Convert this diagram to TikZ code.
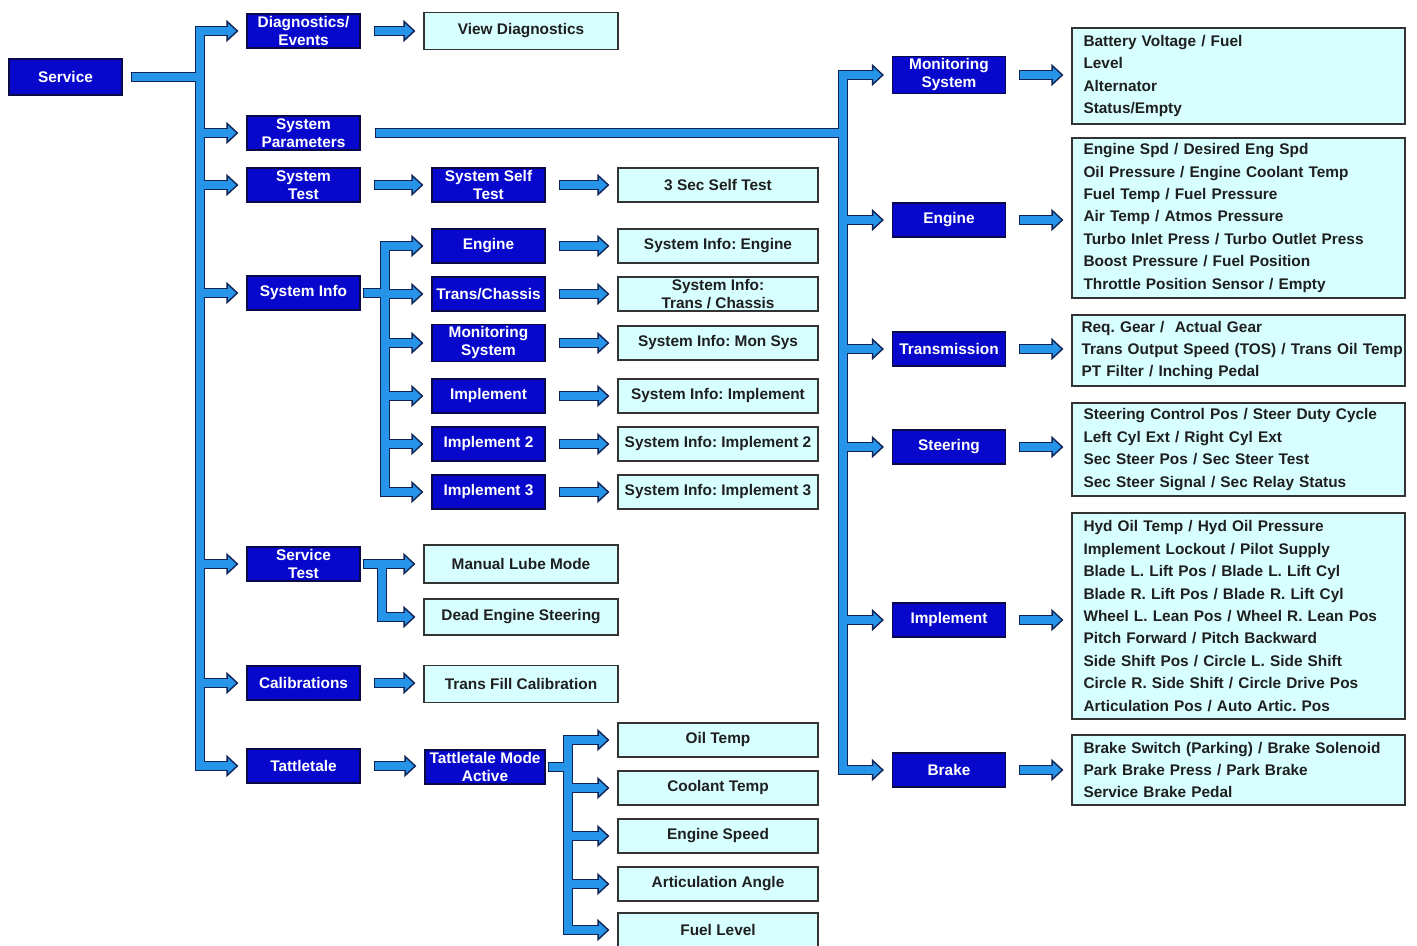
\documentclass[tikz,border=0pt]{standalone}
\usepackage{fontspec}
\setmainfont{Liberation Sans}
\usetikzlibrary{arrows.meta}
\frenchspacing

\definecolor{menublue}{RGB}{8,8,205}
\definecolor{menuedge}{RGB}{10,10,70}
\definecolor{infocyan}{RGB}{215,255,255}
\definecolor{pipeblue}{RGB}{38,148,232}
\definecolor{pipeedge}{RGB}{15,35,85}

\pgfdeclarelayer{edgelayer}
\pgfdeclarelayer{filllayer}
\pgfsetlayers{edgelayer,filllayer,main}

\tikzset{
  menubox/.style={draw=menuedge, fill=menublue, text=white, line width=0.6pt,
    font=\fontsize{7.7}{9}\selectfont\bfseries, align=center, inner sep=1pt,
    minimum width=56.5pt, minimum height=17pt},
  infobox/.style={draw=black!80, fill=infocyan, text=black!88, line width=0.6pt,
    font=\fontsize{7.7}{9}\selectfont\bfseries, align=center, inner sep=1pt,
    minimum width=100pt, minimum height=17pt},
  detailbox/.style={infobox, font=\fontsize{7.7}{11.2}\selectfont\bfseries,
    align=left, text width=155pt, inner xsep=5.75pt},
  pipeout/.style={line width=5pt, draw=pipeedge, shorten >=4pt,
    -{Triangle[length=6pt,width=11pt,line width=0.7pt,fill=pipeblue]}},
  pipein/.style={line width=3.6pt, draw=pipeblue, shorten >=9pt}
}

% fat arrow: dark edge below, blue core above
\newcommand\pipe[2][1pt]{%
  \begin{pgfonlayer}{edgelayer}\draw[pipeout, shorten <=#1] #2;\end{pgfonlayer}%
  \begin{pgfonlayer}{filllayer}\draw[pipein, shorten <=#1+0.6pt] #2;\end{pgfonlayer}}

\begin{document}
\begin{tikzpicture}[x=0.5pt, y=-0.5pt]
  \useasboundingbox (0,0) rectangle (1417,946);

  % first level
  \node[menubox, minimum height=18pt] (service) at (65.5,77) {Service};
  \node[menubox] (diag) at (303.5,31) {Diagnostics/\\Events};
  \node[menubox] (param) at (303.5,133) {System\\Parameters};
  \node[menubox] (systest) at (303.5,185) {System\\Test};
  \node[menubox] (sysinfo) at (303.5,293) {System Info};
  \node[menubox] (servtest) at (303.5,564) {Service\\Test};
  \node[menubox] (calib) at (303.5,683) {Calibrations};
  \node[menubox] (tattle) at (303.5,766) {Tattletale};

  % second level
  \node[menubox] (selftest) at (488.5,185) {System Self\\Test};
  \node[menubox] (ieng) at (488.5,246) {Engine};
  \node[menubox] (itrans) at (488.5,294) {Trans/Chassis};
  \node[menubox] (imon) at (488.5,343) {Monitoring\\System};
  \node[menubox] (iimp) at (488.5,396) {Implement};
  \node[menubox] (iimp2) at (488.5,444) {Implement 2};
  \node[menubox] (iimp3) at (488.5,492) {Implement 3};
  \node[menubox, minimum width=60pt] (tmode) at (485,767) {Tattletale Mode\\Active};

  \node[infobox, minimum width=97pt, minimum height=18.5pt] (vdiag) at (521,31) {View Diagnostics};
  \node[infobox, minimum width=97pt, minimum height=19pt] (lube) at (521,564) {Manual Lube Mode};
  \node[infobox, minimum width=97pt, minimum height=18pt] (dead) at (521,617) {Dead Engine Steering};
  \node[infobox, minimum width=97pt, minimum height=18.5pt] (transfill) at (521,684) {Trans Fill Calibration};

  % third level
  \node[infobox] (stest3) at (718,185) {3 Sec Self Test};
  \node[infobox] (seng) at (718,246) {System Info: Engine};
  \node[infobox] (strans) at (718,294) {System Info:\\Trans / Chassis};
  \node[infobox] (smon) at (718,343) {System Info: Mon Sys};
  \node[infobox] (simp) at (718,396) {System Info: Implement};
  \node[infobox] (simp2) at (718,444) {System Info: Implement 2};
  \node[infobox] (simp3) at (718,492) {System Info: Implement 3};
  \node[infobox] (oil) at (718,740) {Oil Temp};
  \node[infobox] (coolant) at (718,788) {Coolant Temp};
  \node[infobox] (espeed) at (718,836) {Engine Speed};
  \node[infobox] (artic) at (718,884) {Articulation Angle};
  \node[infobox] (fuel) at (718,930) {Fuel Level};

  % system parameters
  \node[menubox] (rmon) at (949,75) {Monitoring\\System};
  \node[menubox] (reng) at (949,220) {Engine};
  \node[menubox] (rtrans) at (949,349) {Transmission};
  \node[menubox] (rsteer) at (949,447) {Steering};
  \node[menubox] (rimp) at (949,620) {Implement};
  \node[menubox] (rbrake) at (949,770) {Brake};

  \node[detailbox, minimum height=48pt] (dmon) at (1238.5,76)
    {Battery Voltage / Fuel\\Level\\Alternator\\Status/Empty};
  \node[detailbox, minimum height=80pt] (deng) at (1238.5,218)
    {Engine Spd / Desired Eng Spd\\Oil Pressure / Engine Coolant Temp\\Fuel Temp / Fuel Pressure\\Air Temp / Atmos Pressure\\Turbo Inlet Press / Turbo Outlet Press\\Boost Pressure / Fuel Position\\Throttle Position Sensor / Empty};
  \node[detailbox, minimum height=35.5pt, text width=157pt, inner xsep=4.75pt] (dtrans) at (1238.5,350.5)
    {Req. Gear /~ Actual Gear\\\mbox{Trans Output Speed (TOS) / Trans Oil Temp}\\PT Filter / Inching Pedal};
  \node[detailbox, minimum height=46.5pt] (dsteer) at (1238.5,449.5)
    {Steering Control Pos / Steer Duty Cycle\\Left Cyl Ext / Right Cyl Ext\\Sec Steer Pos / Sec Steer Test\\Sec Steer Signal / Sec Relay Status};
  \node[detailbox, minimum height=103pt] (dimp) at (1238.5,616)
    {Hyd Oil Temp / Hyd Oil Pressure\\Implement Lockout / Pilot Supply\\Blade L. Lift Pos / Blade L. Lift Cyl\\Blade R. Lift Pos / Blade R. Lift Cyl\\Wheel L. Lean Pos / Wheel R. Lean Pos\\Pitch Forward / Pitch Backward\\Side Shift Pos / Circle L. Side Shift\\Circle R. Side Shift / Circle Drive Pos\\Articulation Pos / Auto Artic. Pos};
  \node[detailbox, minimum height=35pt] (dbrake) at (1238.5,770)
    {Brake Switch (Parking) / Brake Solenoid\\Park Brake Press / Park Brake\\Service Brake Pedal};

  % trunks
  \coordinate (lt) at (200,77);
  \coordinate (it) at (385,293);
  \coordinate (st) at (382,564);
  \coordinate (tt) at (568,767);
  \coordinate (rt) at (843,133);

  \foreach \n in {diag,param,systest,sysinfo,servtest,calib,tattle}
    {\pipe[4pt]{(service.east) -- (lt) |- (\n.west)}}
  \foreach \n in {ieng,itrans,imon,iimp,iimp2,iimp3}
    {\pipe{(sysinfo.east) -- (it) |- (\n.west)}}
  \foreach \n in {lube,dead}
    {\pipe{(servtest.east) -- (st) |- (\n.west)}}
  \foreach \n in {oil,coolant,espeed,artic,fuel}
    {\pipe{(tmode.east) -- (tt) |- (\n.west)}}
  \foreach \n in {rmon,reng,rtrans,rsteer,rimp,rbrake}
    {\pipe[7pt]{(param.east) -- (rt) |- (\n.west)}}

  % straight arrows
  \foreach \a/\b in {diag/vdiag, systest/selftest, selftest/stest3, calib/transfill,
      tattle/tmode, ieng/seng, itrans/strans, imon/smon, iimp/simp, iimp2/simp2,
      iimp3/simp3, rmon/dmon, reng/deng, rtrans/dtrans, rsteer/dsteer,
      rimp/dimp, rbrake/dbrake}
    {\pipe[6.5pt]{(\a.east) -- (\a.east -| \b.west)}}
\end{tikzpicture}
\end{document}
